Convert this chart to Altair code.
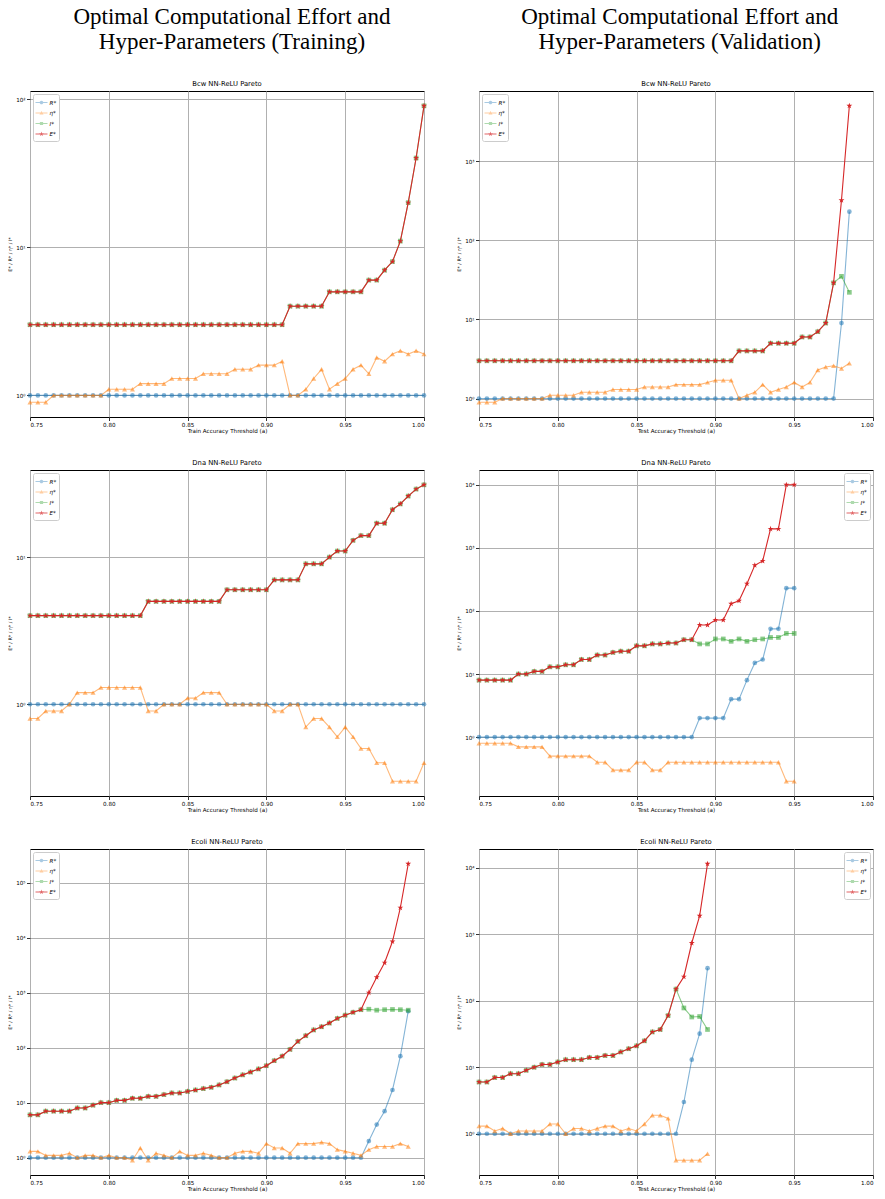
import altair as alt
import pandas as pd
import math

# ---------------- data ----------------
SERIES = ["R*", "η*", "I*", "E*"]
COLORS = ["#1f77b4", "#ff7f0e", "#2ca02c", "#d62728"]
# same colours as drawn at 55 % opacity on white (for the legend keys)
LEGEND_COLORS = ["#84b4d6", "#ffb97a", "#8bcb8b", "#d62728"]

THRESH = [0.75, 0.755, 0.76, 0.765, 0.77, 0.775, 0.78, 0.785, 0.79, 0.795,
          0.80, 0.805, 0.81, 0.815, 0.82, 0.825, 0.83, 0.835, 0.84, 0.845,
          0.85, 0.855, 0.86, 0.865, 0.87, 0.875, 0.88, 0.885, 0.89, 0.895,
          0.90, 0.905, 0.91, 0.915, 0.92, 0.925, 0.93, 0.935, 0.94, 0.945,
          0.95, 0.955, 0.96, 0.965, 0.97, 0.975, 0.98, 0.985, 0.99, 0.995, 1.00]

# Bcw - training (51 points)
BCW_TR_R = [1] * 51
BCW_TR_ETA = [0.9, 0.9, 0.9, 1.0, 1.0, 1.0, 1.0, 1.0, 1.0, 1.0,
              1.1, 1.1, 1.1, 1.1, 1.2, 1.2, 1.2, 1.2, 1.3, 1.3,
              1.3, 1.3, 1.4, 1.4, 1.4, 1.4, 1.5, 1.5, 1.5, 1.6,
              1.6, 1.6, 1.7, 1.0, 1.0, 1.1, 1.3, 1.5, 1.1, 1.2,
              1.3, 1.5, 1.6, 1.4, 1.8, 1.7, 1.9, 2.0, 1.9, 2.0, 1.9]
BCW_TR_E = [3] * 33 + [4] * 5 + [5] * 5 + [6, 6, 7, 8, 11, 20, 40, 90]
BCW_TR_I = [3] * 33 + [4] * 5 + [5] * 5 + [6, 6, 7, 8, 11, 20, 40, 90]

# Bcw - validation (48 points)
BCW_VA_R = [1] * 46 + [9, 230]
BCW_VA_ETA = [0.9, 0.9, 0.9, 1.0, 1.0, 1.0, 1.0, 1.0, 1.0, 1.1,
              1.1, 1.1, 1.1, 1.2, 1.2, 1.2, 1.2, 1.3, 1.3, 1.3,
              1.3, 1.4, 1.4, 1.4, 1.4, 1.5, 1.5, 1.5, 1.5, 1.6,
              1.7, 1.7, 1.7, 1.0, 1.1, 1.2, 1.5, 1.2, 1.3, 1.4,
              1.6, 1.4, 1.6, 2.3, 2.5, 2.6, 2.4, 2.8]
BCW_VA_E = [3] * 33 + [4] * 4 + [5] * 4 + [6, 6, 7, 9, 29, 320, 5000]
BCW_VA_I = [3] * 33 + [4] * 4 + [5] * 4 + [6, 6, 7, 9, 29, 35, 22]

# Dna - training (51 points)
DNA_TR_R = [1] * 51
DNA_TR_ETA = [0.8, 0.8, 0.9, 0.9, 0.9, 1.0, 1.2, 1.2, 1.2, 1.3,
              1.3, 1.3, 1.3, 1.3, 1.3, 0.9, 0.9, 1.0, 1.0, 1.0,
              1.1, 1.1, 1.2, 1.2, 1.2, 1.0, 1.0, 1.0, 1.0, 1.0,
              1.0, 0.9, 0.9, 1.0, 1.0, 0.7, 0.8, 0.8, 0.7, 0.6,
              0.7, 0.6, 0.5, 0.5, 0.4, 0.4, 0.3, 0.3, 0.3, 0.3, 0.4]
DNA_TR_E = [4] * 15 + [5] * 10 + [6] * 6 + [7] * 4 + [9] * 3 + \
           [10, 11, 11, 13, 14, 14, 17, 17, 21, 23, 26, 29, 31]
DNA_TR_I = [4] * 15 + [5] * 10 + [6] * 6 + [7] * 4 + [9] * 3 + \
           [10, 11, 11, 13, 14, 14, 17, 17, 21, 23, 26, 29, 31]

# Dna - validation (41 points)
DNA_VA_R = [1] * 28 + [2, 2, 2, 2, 4, 4, 8, 15, 17, 52, 52, 230, 230]
DNA_VA_ETA = [0.8] * 5 + [0.7] * 4 + [0.5] * 6 + [0.4] * 2 + [0.3] * 3 + \
             [0.4] * 2 + [0.3] * 2 + [0.4] * 15 + [0.2] * 2
DNA_VA_E = [8, 8, 8, 8, 8, 10, 10, 11, 11, 13, 13, 14, 14, 17, 17, 20, 20,
            22, 23, 23, 28, 28, 30, 30, 31, 31, 35, 35,
            60, 60, 72, 72, 130, 145, 270, 530, 620, 2000, 2000, 10000, 10000]
DNA_VA_I = [8, 8, 8, 8, 8, 10, 10, 11, 11, 13, 13, 14, 14, 17, 17, 20, 20,
            22, 23, 23, 28, 28, 30, 30, 31, 31, 35, 35,
            30, 30, 36, 36, 33, 36, 33, 35, 36, 38, 38, 44, 44]

# Ecoli - training (49 points)
ECO_TR_R = [1] * 43 + [2, 4, 7, 17, 70, 460]
ECO_TR_ETA = [1.3, 1.3, 1.1, 1.1, 1.1, 1.2, 1.0, 1.1, 1.1, 1.0,
              1.1, 1.0, 1.0, 0.9, 1.5, 0.9, 1.2, 1.1, 1.0, 1.3,
              1.1, 1.1, 1.2, 1.1, 1.0, 1.0, 1.2, 1.3, 1.3, 1.2,
              1.8, 1.5, 1.5, 1.2, 1.8, 1.8, 1.8, 1.9, 1.8, 1.4,
              1.3, 1.2, 1.1, 1.4, 1.6, 1.6, 1.6, 1.8, 1.6]
ECO_TR_E = [6, 6, 7, 7, 7, 7, 8, 8, 9, 10, 10, 11, 11, 12, 12, 13, 13, 14, 15, 15,
            16, 17, 18, 19, 21, 24, 28, 32, 36, 41, 47, 58, 70, 93, 130, 165, 210,
            240, 280, 340, 390, 440, 490, 1000, 1900, 3500, 8500, 35000, 220000]
ECO_TR_I = [6, 6, 7, 7, 7, 7, 8, 8, 9, 10, 10, 11, 11, 12, 12, 13, 13, 14, 15, 15,
            16, 17, 18, 19, 21, 24, 28, 32, 36, 41, 47, 58, 70, 93, 130, 165, 210,
            240, 280, 340, 390, 440, 490, 500, 480, 490, 495, 490, 480]

# Ecoli - validation (30 points)
ECO_VA_R = [1] * 26 + [3, 13, 32, 310]
ECO_VA_ETA = [1.3, 1.3, 1.1, 1.2, 1.0, 1.1, 1.1, 1.1, 1.1, 1.4,
              1.4, 1.0, 1.2, 1.2, 1.1, 1.2, 1.3, 1.3, 1.1, 1.2,
              1.1, 1.4, 1.9, 1.9, 1.7, 0.4, 0.4, 0.4, 0.4, 0.5]
ECO_VA_E = [6, 6, 7, 7, 8, 8, 9, 10, 11, 11, 12, 13, 13, 13, 14, 14, 15, 15, 17, 19,
            21, 25, 34, 37, 60, 150, 230, 740, 1900, 11500]
ECO_VA_I = [6, 6, 7, 7, 8, 8, 9, 10, 11, 11, 12, 13, 13, 13, 14, 14, 15, 15, 17, 19,
            21, 25, 34, 37, 60, 150, 78, 57, 58, 37]

X_TICKS = [0.75, 0.80, 0.85, 0.90, 0.95, 1.00]

# ---------------- styling ----------------
STAR = ("M0,-1L0.2245,-0.309L0.951,-0.309L0.363,0.118L0.588,0.809L0,0.382"
        "L-0.588,0.809L-0.363,0.118L-0.951,-0.309L-0.2245,-0.309Z")
SHAPES = ["circle", "triangle-up", "square", STAR]
SIZES = [22, 26, 22, 38]
OPAC = [0.55, 0.55, 0.55, 1.0]

# legend keys: a short line with the marker in its middle
_BAR = "M-1,-0.075H1V0.075H-1Z"
_STAR_S = ("M0,-0.42L0.094,-0.13L0.4,-0.13L0.152,0.05L0.247,0.34L0,0.16"
           "L-0.247,0.34L-0.152,0.05L-0.4,-0.13L-0.094,-0.13Z")
LEGEND_SHAPES = [
    _BAR + "M0.3,0A0.3,0.3 0 1,1 -0.3,0A0.3,0.3 0 1,1 0.3,0Z",
    _BAR + "M0,-0.34L0.34,0.26L-0.34,0.26Z",
    _BAR + "M-0.27,-0.27H0.27V0.27H-0.27Z",
    _BAR + _STAR_S,
]

FONT = "DejaVu Sans"
PW, PH = 394, 326
SUP = "['⁰','¹','²','³','⁴','⁵','⁶','⁷']"


def panel(title, series_lists, xlabel, legend_orient):
    n = len(series_lists[0])
    xs = THRESH[:n]
    allv = [v for lst in series_lists for v in lst]
    lo, hi = math.log10(min(allv)), math.log10(max(allv))
    m = 0.05 * (hi - lo)
    dom = [10 ** (lo - m), 10 ** (hi + m)]
    decades = [10 ** k for k in range(-3, 8) if dom[0] <= 10 ** k <= dom[1]]

    xenc = alt.X("x:Q", scale=alt.Scale(domain=[0.75, 1.0], nice=False, zero=False),
                 axis=alt.Axis(values=X_TICKS, format=".2f", title=xlabel, grid=True))
    yenc = alt.Y("v:Q", scale=alt.Scale(type="log", domain=dom, nice=False),
                 axis=alt.Axis(values=decades, title="E* / R* / η* / I*",
                               labelExpr="'10' + " + SUP + "[round(log(datum.value)/LN10)]"))
    layers = []
    frames = []
    for i, s in enumerate(SERIES):
        df = pd.DataFrame({"x": xs, "v": series_lists[i], "s": s})
        frames.append(df)
        base = alt.Chart(df)
        line = base.mark_line(strokeWidth=1.1, opacity=OPAC[i], color=COLORS[i]).encode(x=xenc, y=yenc)
        pts = base.mark_point(filled=True, opacity=OPAC[i], size=SIZES[i], shape=SHAPES[i],
                              color=COLORS[i]).encode(x=xenc, y=yenc)
        layers += [line, pts]

    legend = alt.Legend(title=None, orient=legend_orient, offset=3)
    key = alt.Chart(pd.concat(frames)).transform_filter("false").mark_point(filled=True).encode(
        x=xenc, y=yenc,
        color=alt.Color("s:N", scale=alt.Scale(domain=SERIES, range=LEGEND_COLORS), legend=legend),
        shape=alt.Shape("s:N", scale=alt.Scale(domain=SERIES, range=LEGEND_SHAPES), legend=legend),
    )
    layers.append(key)
    return alt.layer(*layers).properties(
        width=PW, height=PH,
        title=alt.TitleParams(title, fontSize=6.8, font=FONT, fontWeight="normal", offset=3))


train_panels = [
    panel("Bcw NN-ReLU Pareto", [BCW_TR_R, BCW_TR_ETA, BCW_TR_I, BCW_TR_E], "Train Accuracy Threshold (a)", "top-left"),
    panel("Dna NN-ReLU Pareto", [DNA_TR_R, DNA_TR_ETA, DNA_TR_I, DNA_TR_E], "Train Accuracy Threshold (a)", "top-left"),
    panel("Ecoli NN-ReLU Pareto", [ECO_TR_R, ECO_TR_ETA, ECO_TR_I, ECO_TR_E], "Train Accuracy Threshold (a)", "top-left"),
]
val_panels = [
    panel("Bcw NN-ReLU Pareto", [BCW_VA_R, BCW_VA_ETA, BCW_VA_I, BCW_VA_E], "Test Accuracy Threshold (a)", "top-left"),
    panel("Dna NN-ReLU Pareto", [DNA_VA_R, DNA_VA_ETA, DNA_VA_I, DNA_VA_E], "Test Accuracy Threshold (a)", "top-right"),
    panel("Ecoli NN-ReLU Pareto", [ECO_VA_R, ECO_VA_ETA, ECO_VA_I, ECO_VA_E], "Test Accuracy Threshold (a)", "top-right"),
]


def col_title(lines):
    return alt.TitleParams(lines, font="Liberation Serif", fontSize=23, lineHeight=24.5,
                           fontWeight="normal", anchor="middle", offset=27, dx=15,
                           color="black")


left = alt.vconcat(*train_panels, spacing=24,
                   title=col_title(["Optimal Computational Effort and", "Hyper-Parameters (Training)"])
                   ).resolve_scale(color="independent", shape="independent")
right = alt.vconcat(*val_panels, spacing=24,
                    title=col_title(["Optimal Computational Effort and", "Hyper-Parameters (Validation)"])
                    ).resolve_scale(color="independent", shape="independent")

chart = alt.hconcat(left, right, spacing=27).resolve_scale(
    color="independent", shape="independent"
).properties(
    padding={"left": 6, "top": 6, "right": 5, "bottom": 5}
).configure_view(
    stroke="black", strokeWidth=1
).configure_axis(
    labelFont=FONT, titleFont=FONT, labelFontSize=5.6, titleFontSize=5.6,
    titleFontWeight="normal", labelColor="black", titleColor="black",
    domain=False, tickColor="black", tickSize=3.5, tickWidth=0.8,
    gridColor="#b0b0b0", gridWidth=1, gridOpacity=1
).configure_axisX(
    labelPadding=1.5, titlePadding=1
).configure_axisY(
    labelPadding=1.5, minExtent=15, maxExtent=15, titlePadding=3, titleFontSize=4.8
).configure_legend(
    labelFont=FONT, labelFontSize=5.6, labelFontStyle="italic", labelColor="black",
    symbolSize=144, symbolStrokeWidth=0, rowPadding=0.5, padding=2.5,
    strokeColor="#cccccc", fillColor="white", cornerRadius=2, labelOffset=2
)

chart.save("out.html", embed_options={"renderer": "svg", "actions": False})
